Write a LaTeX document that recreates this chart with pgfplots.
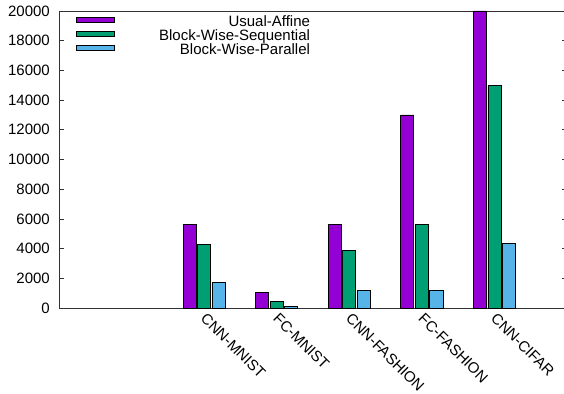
\documentclass[border=0pt]{standalone}
\usepackage{pgfplots}
\pgfplotsset{compat=1.18}
\usepackage{fontspec}
\setmainfont{Liberation Sans}
\definecolor{cA}{HTML}{9400D3}
\definecolor{cB}{HTML}{009E73}
\definecolor{cC}{HTML}{56B4E9}
\definecolor{axgray}{HTML}{333333}
\begin{document}
\fontsize{15}{18}\selectfont
\begin{tikzpicture}
\useasboundingbox (-59pt,-85pt) rectangle (505pt,308pt);
\begin{axis}[
  at={(0pt,0pt)}, anchor=south west,
  scale only axis, width=508pt, height=297pt,
  xmin=0, xmax=7, ymin=0, ymax=20000,
  ybar, bar width=0.18,
  legend image code/.code={\draw[#1] (0pt,0.5pt) rectangle (38pt,6pt);},
  axis line style={axgray, line width=0.9pt},
  xtick={2,3,4,5,6},
  xticklabels={CNN-MNIST,FC-MNIST,CNN-FASHION,FC-FASHION,CNN-CIFAR},
  x tick style={draw=none},
  xticklabel style={rotate=-45, anchor=north west, inner sep=1pt, xshift=4pt, yshift=0.5pt, font=\fontsize{15}{18}\selectfont},
  ytick distance=2000,
  ytick pos=both, tick align=inside,
  y tick style={axgray, line width=0.8pt}, major tick length=5pt,
  yticklabel style={font=\fontsize{15}{18}\selectfont, inner sep=0pt, xshift=-9pt},
  /pgf/number format/assume math mode=true,
  /pgf/number format/1000 sep={},
  scaled y ticks=false,
  legend style={at={(axis description cs:0,1)}, anchor=north west, xshift=17pt, yshift=-5pt,
    draw=none, fill=none, inner sep=0pt, row sep=0pt,
    nodes={inner sep=0pt, text height=10.5pt, text depth=3.5pt},
    /tikz/every even column/.append style={column sep=6pt},
    font=\fontsize{15}{18}\selectfont},
]
\addplot[fill=cA, draw=black, line width=0.8pt, bar shift=-0.2] coordinates {(2,5600) (3,1050) (4,5650) (5,13000) (6,20000)};
\addlegendentry{\makebox[195pt][r]{Usual-Affine}}
\addplot[fill=cB, draw=black, line width=0.8pt, bar shift=0] coordinates {(2,4300) (3,470) (4,3900) (5,5650) (6,15000)};
\addlegendentry{\makebox[195pt][r]{Block-Wise-Sequential}}
\addplot[fill=cC, draw=black, line width=0.8pt, bar shift=0.2] coordinates {(2,1750) (3,90) (4,1200) (5,1200) (6,4350)};
\addlegendentry{\makebox[195pt][r]{Block-Wise-Parallel}}
\end{axis}
\end{tikzpicture}
\end{document}
